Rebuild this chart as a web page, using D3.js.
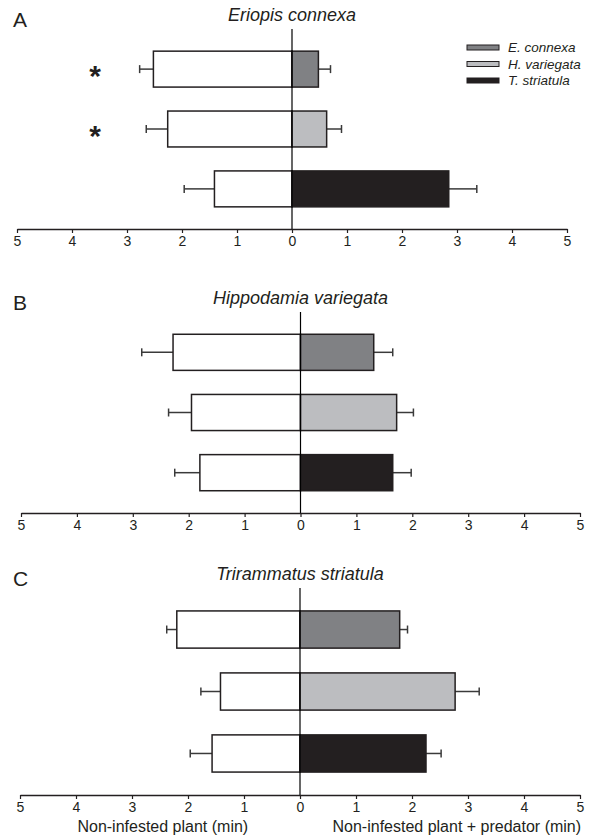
<!DOCTYPE html>
<html>
<head>
<meta charset="utf-8">
<script src="https://d3js.org/d3.v7.min.js"></script>
<style>
    body { margin: 0; background: #fff; }
    svg { display: block; font-family: "Liberation Sans", Arial, sans-serif; }
</style>
</head>
<body>
<div id="chart"></div>
<script>
// Data (minutes)
let predators = ["E. connexa", "H. variegata", "T. striatula"];
let panelLetters = ["A", "B", "C"];
let panelTitles = ["Eriopis connexa", "Hippodamia variegata", "Trirammatus striatula"];

// left side: non-infested plant, right side: non-infested plant + predator
let leftMeans = [[2.52, 2.26, 1.41], [2.28, 1.95, 1.80], [2.20, 1.42, 1.57]];
let leftSE = [[0.25, 0.39, 0.55], [0.56, 0.41, 0.45], [0.18, 0.35, 0.39]];
let rightMeans = [[0.48, 0.63, 2.85], [1.31, 1.72, 1.65], [1.78, 2.77, 2.25]];
let rightSE = [[0.22, 0.27, 0.51], [0.34, 0.30, 0.33], [0.14, 0.43, 0.27]];

// significance stars (panel, row)
let stars = [[0, 0], [0, 1]];

let tickValues = [-5, -4, -3, -2, -1, 0, 1, 2, 3, 4, 5];
let xTitles = ["Non-infested plant (min)", "Non-infested plant + predator (min)"];

let colors = ["#808184", "#bcbdc0", "#231f20"];

// Layout of each panel
let width = 593, height = 836;
let panels = [
    {top: 29, axisY: 229, x0: 17, x1: 567},
    {top: 312, axisY: 513, x0: 21, x1: 580},
    {top: 588, axisY: 795, x0: 20, x1: 580}
];

let svg = d3.select("#chart").append("svg")
    .attr("width", width)
    .attr("height", height);

panels.forEach(function(p, k){
    let x = d3.scaleLinear().domain([-5, 5]).range([p.x0, p.x1]);
    let y = d3.scaleBand().domain(predators).range([p.top, p.axisY])
        .paddingInner(0.4).paddingOuter(0.37);

    let g = svg.append("g");

    // panel letter + title
    g.append("text")
        .attr("x", 13).attr("y", p.top - 2)
        .attr("font-size", 21).attr("fill", "#231f20")
        .text(panelLetters[k]);
    g.append("text")
        .attr("x", x(0)).attr("y", p.top - 8)
        .attr("text-anchor", "middle")
        .attr("font-size", 18).attr("font-style", "italic").attr("fill", "#231f20")
        .text(panelTitles[k]);

    // bars
    let rows = predators.map((d, i) => ({
        name: d, i: i,
        left: leftMeans[k][i], leftSE: leftSE[k][i],
        right: rightMeans[k][i], rightSE: rightSE[k][i]
    }));

    // error bars first so bars sit on top
    let errs = [];
    rows.forEach(r => {
        errs.push({y: y(r.name) + y.bandwidth() / 2, from: -r.left, to: -(r.left + r.leftSE)});
        errs.push({y: y(r.name) + y.bandwidth() / 2, from: r.right, to: r.right + r.rightSE});
    });
    g.selectAll(".err").data(errs).enter().append("line")
        .attr("x1", d => x(d.from)).attr("x2", d => x(d.to))
        .attr("y1", d => d.y).attr("y2", d => d.y)
        .attr("stroke", "#3a3a3a").attr("stroke-width", 1.5);
    g.selectAll(".cap").data(errs).enter().append("line")
        .attr("x1", d => x(d.to)).attr("x2", d => x(d.to))
        .attr("y1", d => d.y - 4).attr("y2", d => d.y + 4)
        .attr("stroke", "#3a3a3a").attr("stroke-width", 1.5);

    g.selectAll(".lbar").data(rows).enter().append("rect")
        .attr("x", d => x(-d.left))
        .attr("y", d => y(d.name))
        .attr("width", d => x(0) - x(-d.left))
        .attr("height", y.bandwidth())
        .attr("fill", "#fff")
        .attr("stroke", "#231f20").attr("stroke-width", 1.5);

    g.selectAll(".rbar").data(rows).enter().append("rect")
        .attr("x", x(0))
        .attr("y", d => y(d.name))
        .attr("width", d => x(d.right) - x(0))
        .attr("height", y.bandwidth())
        .attr("fill", d => colors[d.i])
        .attr("stroke", "#231f20").attr("stroke-width", 1.5);

    // zero line
    g.append("line")
        .attr("x1", x(0)).attr("x2", x(0))
        .attr("y1", p.top).attr("y2", p.axisY)
        .attr("stroke", "#000").attr("stroke-width", 1.2);

    // axis with absolute values
    let axis = d3.axisBottom(x).tickValues(tickValues).tickSizeInner(4).tickSizeOuter(0)
        .tickPadding(3).tickFormat(v => Math.abs(v));
    let ax = g.append("g").attr("transform", "translate(0," + p.axisY + ")").call(axis);
    ax.select(".domain").attr("stroke", "#231f20").attr("stroke-width", 1.5);
    ax.selectAll(".tick line").attr("stroke", "#231f20").attr("stroke-width", 1.2);
    ax.selectAll(".tick text").attr("font-size", 14).attr("fill", "#231f20")
        .attr("font-family", "Liberation Sans, Arial, sans-serif");

    // stars
    stars.filter(s => s[0] === k).forEach(s => {
        g.append("text")
            .attr("x", x(-3.58)).attr("y", y(predators[s[1]]) + y.bandwidth() / 2 + 17)
            .attr("text-anchor", "middle")
            .attr("font-size", 30).attr("font-weight", "bold").attr("fill", "#231f20")
            .text("*");
    });

    // legend in panel A
    if(k === 0){
        let legend = g.selectAll(".legend").data(predators).enter().append("g")
            .attr("transform", (d, i) => "translate(467," + (45 + i * 16.5) + ")");
        legend.append("rect")
            .attr("width", 32).attr("height", 5)
            .attr("fill", (d, i) => colors[i])
            .attr("stroke", "#231f20").attr("stroke-width", 1);
        legend.append("text")
            .attr("x", 41).attr("y", 7)
            .attr("font-size", 13.5).attr("font-style", "italic").attr("fill", "#231f20")
            .text(d => d);
    }

    // axis titles under last panel
    if(k === 2){
        g.append("text")
            .attr("x", x(-2.45)).attr("y", p.axisY + 37)
            .attr("text-anchor", "middle").attr("font-size", 16).attr("fill", "#231f20")
            .text(xTitles[0]);
        g.append("text")
            .attr("x", x(2.8)).attr("y", p.axisY + 37)
            .attr("text-anchor", "middle").attr("font-size", 16).attr("fill", "#231f20")
            .text(xTitles[1]);
    }
});
</script>
</body>
</html>
